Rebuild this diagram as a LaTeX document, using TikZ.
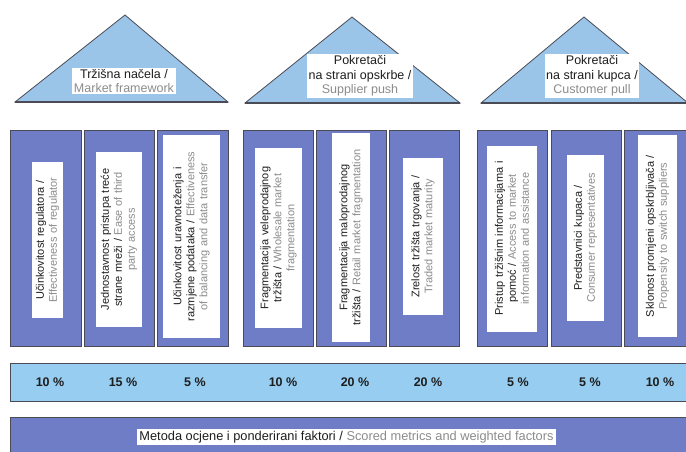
\documentclass[tikz,border=0pt]{standalone}
\usepackage{fontspec}
\setmainfont{Liberation Sans}
\definecolor{colfill}{RGB}{111,125,198}
\definecolor{barfill}{RGB}{150,205,240}
\definecolor{trifill}{RGB}{155,197,232}
\definecolor{edge}{RGB}{75,75,85}
\definecolor{gtext}{RGB}{140,140,140}
\definecolor{btext}{RGB}{30,30,30}
\newcommand\gtxt[1]{\textcolor{gtext}{#1}}
\tikzset{
  colbox/.style={draw=edge, fill=colfill, line width=0.8pt, minimum width=70pt, minimum height=216pt, inner sep=0pt, outer sep=0pt},
  lbl/.style={rotate=90, fill=white, inner sep=0pt, align=center, text=btext, font=\fontsize{11}{13}\selectfont},
  tri/.style={draw=edge, fill=trifill, line width=0.8pt, line join=miter},
  trilbl/.style={fill=white, inner sep=1.5pt, align=center, text=btext, font=\fontsize{12.5}{14.5}\selectfont},
  pct/.style={font=\bfseries\fontsize{12.5}{14}\selectfont, text=btext},
  barbox/.style={draw=edge, line width=0.8pt, inner sep=0pt, outer sep=0pt}
}
\begin{document}
\begin{tikzpicture}[x=1pt,y=-1pt]
\useasboundingbox (0,0) rectangle (686,451);
\clip (0,0) rectangle (686,451);
\fill[white] (0,0) rectangle (686,451);

% triangles
\draw[tri] (15,102) -- (125,15) -- (228,102) -- cycle;
\draw[edge, line width=1.4pt] (15,102) -- (228,102);
\draw[tri] (245,103) -- (352,17) -- (460,103) -- cycle;
\draw[edge, line width=1.4pt] (245,103) -- (460,103);
\draw[tri] (481,103) -- (584,17) -- (688,103) -- cycle;
\draw[edge, line width=1.4pt] (481,103) -- (688,103);

\node[trilbl] (t1) at (124,81) {Tržišna načela /\\\gtxt{Market framework}};
\node[trilbl] (t2) at (360,76) {Pokretači\\na strani opskrbe /\\\gtxt{Supplier push}};
\node[trilbl] (t3) at (592,76) {Pokretači\\na strani kupca /\\\gtxt{Customer pull}};

% columns
\node[colbox, minimum width=71pt] (c1) at (45.5,238) {};
\node[colbox] (c2) at (119,238) {};
\node[colbox, minimum width=71pt] (c3) at (192.5,238) {};
\node[colbox] (c4) at (278,238) {};
\node[colbox] (c5) at (351,238) {};
\node[colbox] (c6) at (424,238) {};
\node[colbox] (c7) at (512,238) {};
\node[colbox] (c8) at (586,238) {};
\node[colbox] (c9) at (659,238) {};

% rotated labels
\node[lbl, text width=156pt, minimum height=31pt] (l1) at (47.5,240)
  {Učinkovitost regulatora /\\\gtxt{Effectiveness of regulator}};
\node[lbl, text width=175pt, minimum height=46pt] (l2) at (119,239.5)
  {Jednostavnost pristupa treće\\strane mreži / \gtxt{Ease of third}\\\gtxt{party access}};
\node[lbl, text width=203pt, minimum height=57pt] (l3) at (191.5,236.5)
  {Učinkovitost uravnoteženja i\\razmjene podataka / \gtxt{Effectiveness}\\\gtxt{of balancing and data transfer}};
\node[lbl, text width=180pt, minimum height=47pt] (l4) at (278.5,238)
  {Fragmentacija veleprodajnog\\tržišta / \gtxt{Wholesale market}\\\gtxt{fragmentation}};
\node[lbl, text width=209pt, minimum height=38pt] (l5) at (351,237.5)
  {Fragmentacija maloprodajnog\\tržišta / \gtxt{Retail market fragmentation}};
\node[lbl, text width=157pt, minimum height=40pt] (l6) at (423,236.5)
  {Zrelost tržišta trgovanja /\\\gtxt{Traded market maturity}};
\node[lbl, text width=186pt, minimum height=50pt] (l7) at (512,238.5)
  {Pristup tržišnim informacijama i\\pomoć / \gtxt{Access to market}\\\gtxt{information and assistance}};
\node[lbl, text width=166pt, minimum height=37pt] (l8) at (585.5,238)
  {Predstavnici kupaca /\\\gtxt{Consumer representatives}};
\node[lbl, text width=202pt, minimum height=39pt] (l9) at (657.5,236)
  {Sklonost promjeni opskrbljivača /\\\gtxt{Propensity to switch suppliers}};

% percentage bar
\node[barbox, fill=barfill, minimum width=680pt, minimum height=38pt] (pbar) at (350,382) {};
\node[pct] (p1) at (50,382) {10 \%};
\node[pct] (p2) at (123,382) {15 \%};
\node[pct] (p3) at (195,382) {5 \%};
\node[pct] (p4) at (283,382) {10 \%};
\node[pct] (p5) at (355,382) {20 \%};
\node[pct] (p6) at (428,382) {20 \%};
\node[pct] (p7) at (518,382) {5 \%};
\node[pct] (p8) at (590,382) {5 \%};
\node[pct] (p9) at (660,382) {10 \%};

% bottom bar
\node[barbox, fill=colfill, minimum width=680pt, minimum height=48pt] (bbar) at (350,441) {};
\node[fill=white, inner sep=2.5pt, text=btext, font=\fontsize{12.8}{14}\selectfont] (blbl) at (346.5,437)
  {Metoda ocjene i ponderirani faktori / \gtxt{Scored metrics and weighted factors}};
\end{tikzpicture}
\end{document}
